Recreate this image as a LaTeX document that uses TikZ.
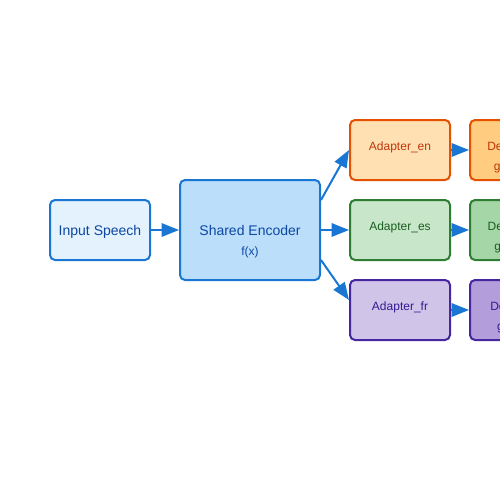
\documentclass[tikz,border=0pt]{standalone}
\usepackage{fontspec}
\setmainfont{Liberation Sans}
\usetikzlibrary{arrows.meta}

\definecolor{blueline}{HTML}{1976D2}
\definecolor{bluetext}{HTML}{0D47A1}
\definecolor{inputfill}{HTML}{E3F2FD}
\definecolor{encfill}{HTML}{BBDEFB}
\definecolor{enline}{HTML}{E65100}
\definecolor{entext}{HTML}{BF360C}
\definecolor{enfill}{HTML}{FFE0B2}
\definecolor{endec}{HTML}{FFCC80}
\definecolor{esline}{HTML}{2E7D32}
\definecolor{estext}{HTML}{1B5E20}
\definecolor{esfill}{HTML}{C8E6C9}
\definecolor{esdec}{HTML}{A5D6A7}
\definecolor{frline}{HTML}{4527A0}
\definecolor{frtext}{HTML}{311B92}
\definecolor{frfill}{HTML}{D1C4E9}
\definecolor{frdec}{HTML}{B39DDB}

\tikzset{
  box/.style={draw, line width=1.5pt, rounded corners=3.75pt, minimum width=75pt, minimum height=45pt},
  bigbox/.style={box, minimum width=105pt, minimum height=75pt},
  big/.style={anchor=base, font=\fontsize{10.5pt}{12pt}\selectfont},
  small/.style={anchor=base, font=\fontsize{9pt}{11pt}\selectfont},
  flow/.style={draw=blueline, line width=1.5pt, -{Triangle[length=13pt,width=10pt]}}
}

\begin{document}
\begin{tikzpicture}[x=0.75pt,y=-0.75pt]
		\tikzstyle{every node}+=[inner sep=0pt]
		\clip (0,0) rectangle (500,500);
		% input and shared encoder
		\node [box, draw=blueline, fill=inputfill] (input) at (100,230) {};
		\node [big, text=bluetext] (input-t) at (100,235) {Input Speech};
		\node [bigbox, draw=blueline, fill=encfill] (enc) at (250,230) {};
		\node [big, text=bluetext] (enc-t) at (250,235) {Shared Encoder};
		\node [small, text=bluetext] (enc-f) at (250,255) {f(x)};
		% adapters
		\node [box, draw=enline, fill=enfill] (aen) at (400,150) {};
		\node [small, text=entext] (aen-t) at (400,150) {Adapter\_en};
		\node [box, draw=esline, fill=esfill] (aes) at (400,230) {};
		\node [small, text=estext] (aes-t) at (400,230) {Adapter\_es};
		\node [box, draw=frline, fill=frfill] (afr) at (400,310) {};
		\node [small, text=frtext] (afr-t) at (400,310) {Adapter\_fr};
		% decoders
		\node [box, draw=enline, fill=endec] (den) at (520,150) {};
		\node [small, text=entext] (den-t) at (520,150) {Decoder\_en};
		\node [small, text=entext] (den-g) at (520,170) {g\_en(f(x))};
		\node [box, draw=esline, fill=esdec] (des) at (520,230) {};
		\node [small, text=estext] (des-t) at (520,230) {Decoder\_es};
		\node [small, text=estext] (des-g) at (520,250) {g\_es(f(x))};
		\node [box, draw=frline, fill=frdec] (dfr) at (520,310) {};
		\node [small, text=frtext] (dfr-t) at (520,310) {Decoder\_fr};
		\node [small, text=frtext] (dfr-g) at (520,330) {g\_fr(f(x))};
		% arrows
		\draw [flow] (input.east) -- (enc.west);
		\draw [flow] ([yshift=22.5pt]enc.east) -- (aen.west);
		\draw [flow] (enc.east) -- (aes.west);
		\draw [flow] ([yshift=-22.5pt]enc.east) -- ([yshift=7.5pt]afr.west);
		\draw [flow] (aen.east) -- (den.west);
		\draw [flow] (aes.east) -- (des.west);
		\draw [flow] (afr.east) -- (dfr.west);
	\end{tikzpicture}
\end{document}
